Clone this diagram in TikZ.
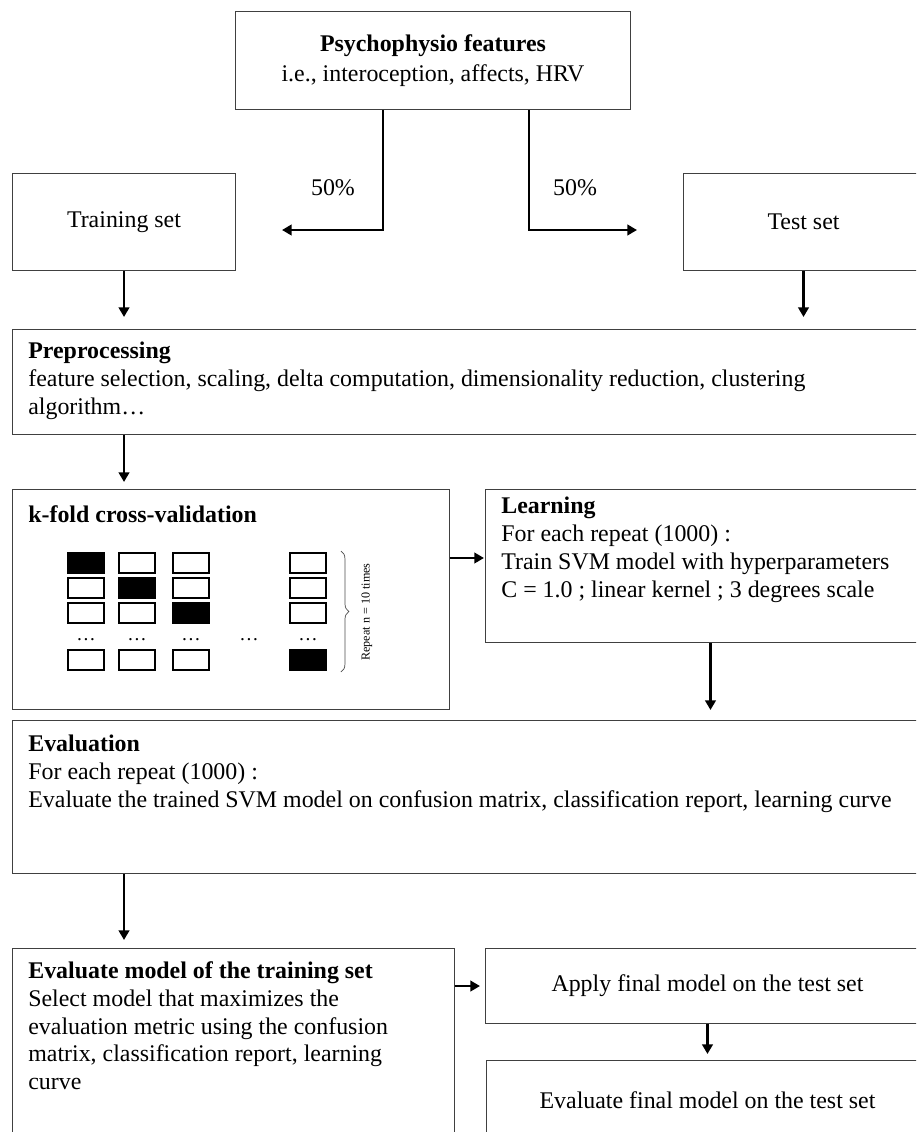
\documentclass[tikz,border=0pt]{standalone}
\usepackage{fontspec}
\setmainfont{Liberation Serif}
\usetikzlibrary{positioning,arrows.meta,calc,decorations.pathreplacing}
\newcommand{\bodyfont}{\fontsize{13.6}{15.9}\selectfont}
\tikzset{
  % plain outlined box (placed by its top left corner)
  box/.style     = {rectangle, draw=black!75, line width=0.6pt, anchor=north west,
                    inner sep=0pt, align=center, font=\bodyfont},
  % left aligned text block inside a box
  boxtxt/.style  = {anchor=north west, align=left, inner sep=0pt, font=\bodyfont},
  % fold cell of the cross-validation sketch
  cell/.style    = {rectangle, draw=black, line width=1.1pt, inner sep=0pt,
                    minimum width=0.72cm, minimum height=0.4cm},
  gap/.style     = {anchor=base, inner sep=0pt, font=\fontsize{11}{12}\selectfont},
  % arrows
  flow/.style    = {-{Triangle[length=5.5pt,width=6pt]}, line width=1.5pt, black},
  brace/.style   = {decorate, decoration={brace, amplitude=0.16cm}, line width=0.4pt, black!70},
}

\begin{document}
\begin{tikzpicture}[x=0.02cm, y=-0.02cm]
  \useasboundingbox (0,0) rectangle (916,1132);
  \clip (0,0) rectangle (916,1132);

  % --- features and 50/50 split ---
  \node[box, minimum width=7.9cm, minimum height=1.96cm] (feat) at (235,11)
       {\textbf{Psychophysio features}\\[1pt] i.e., interoception, affects, HRV};

  \node[box, minimum width=4.46cm, minimum height=1.94cm] (train) at (12,173) {Training set};
  \node[box, minimum width=4.8cm, minimum height=1.94cm] (test) at (683,173) {Test set};

  \coordinate (splitL) at (282,230);
  \coordinate (splitR) at (637,230);
  \draw[flow] ($(feat.south west)+(148,0)$) |- (splitL);
  \draw[flow] ($(feat.south west)+(294,0)$) |- (splitR);
  \node[font=\bodyfont] (pctL) at (333,188) {50\%};
  \node[font=\bodyfont] (pctR) at (575,188) {50\%};

  % --- preprocessing ---
  \node[box, minimum width=18.4cm, minimum height=2.1cm] (prep) at (12,329) {};
  \node[boxtxt] (prepT) at ([xshift=0.32cm,yshift=-0.26cm]prep.north west)
       {\textbf{Preprocessing}\\
        feature selection, scaling, delta computation, dimensionality reduction, clustering\\
        algorithm…};

  \draw[flow, shorten >=0.24cm] (train.south) -- (train.south |- prep.north);
  \draw[flow, shorten >=0.24cm] (test.south) -- (test.south |- prep.north);

  % --- k-fold and learning ---
  \node[box, minimum width=8.74cm, minimum height=4.4cm] (kfold) at (12,489) {};
  \node[boxtxt] (kfoldT) at ([xshift=0.32cm,yshift=-0.32cm]kfold.north west)
       {\textbf{k-fold cross-validation}};

  \foreach \cx [count=\i] in {86,137,191,308} {
    \foreach \cy [count=\j] in {563,588,613,660} {
      \ifnum\i=\j
        \node[cell, fill=black] (cell\i\j) at (\cx,\cy) {};
      \else
        \node[cell] (cell\i\j) at (\cx,\cy) {};
      \fi
    }
    \node[gap] (dots\i) at (\cx,640) {…};
  }
  \node[gap] (dotsmid) at (249,640) {…};

  \draw[brace] ($(cell41.north east)+(14,-1)$) -- ($(cell44.south east)+(14,1)$);
  \node[rotate=90, inner sep=0pt, font=\fontsize{6.9}{8}\selectfont] (rep) at (367,612)
       {Repeat n = 10 times};

  \node[box, minimum width=9cm, minimum height=3.06cm] (learn) at (485,489) {};
  \node[boxtxt] (learnT) at ([xshift=0.32cm,yshift=-0.16cm]learn.north west)
       {\textbf{Learning}\\
        For each repeat (1000) :\\
        Train SVM model with hyperparameters\\
        C = 1.0 ; linear kernel ; 3 degrees scale};

  \draw[flow, shorten >=0.14cm] (train.south |- prep.south) -- (train.south |- kfold.north);
  \draw[flow, shorten >=0.04cm] ($(kfold.north east)+(0,69)$) -- ($(kfold.north east)+(36,69)$);

  % --- evaluation ---
  \node[box, minimum width=18.4cm, minimum height=3.06cm] (eval) at (12,720) {};
  \node[boxtxt] (evalT) at ([xshift=0.32cm,yshift=-0.3cm]eval.north west)
       {\textbf{Evaluation}\\
        For each repeat (1000) :\\
        Evaluate the trained SVM model on confusion matrix, classification report, learning curve};

  \draw[flow, shorten >=0.2cm] (learn.south) -- (learn.south |- eval.north);

  % --- model selection and final test ---
  \node[box, minimum width=8.84cm, minimum height=4cm] (evmod) at (12,948) {};
  \node[boxtxt] (evmodT) at ([xshift=0.32cm,yshift=-0.26cm]evmod.north west)
       {\textbf{Evaluate model of the training set}\\
        Select model that maximizes the\\
        evaluation metric using the confusion\\
        matrix, classification report, learning\\
        curve};

  \node[box, minimum width=8.88cm, minimum height=1.5cm] (apply) at (485,948)
       {Apply final model on the test set};
  \node[box, minimum width=8.84cm, minimum height=1.6cm] (evfin) at (486,1060)
       {Evaluate final model on the test set};

  \draw[flow, shorten >=0.16cm] (train.south |- eval.south) -- (train.south |- evmod.north);
  \draw[flow, shorten >=0.1cm] (apply.west -| evmod.east) -- (apply.west);
  \draw[flow, shorten >=0.12cm] (apply.south) -- (evfin.north);

\end{tikzpicture}
\end{document}
